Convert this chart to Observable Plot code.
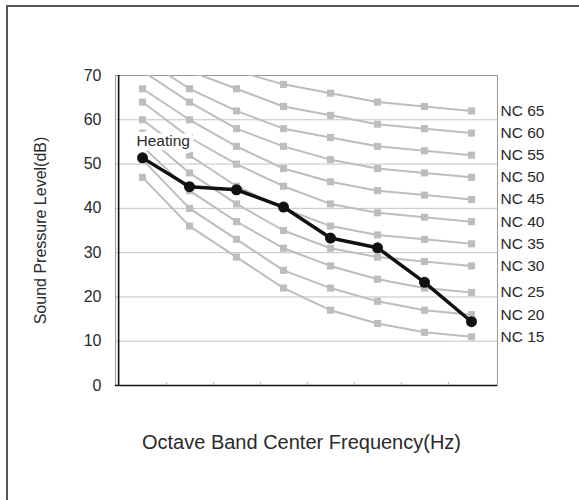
<!DOCTYPE html>
<html>
<head>
<meta charset="utf-8">
<script src="https://cdn.jsdelivr.net/npm/d3@7"></script>
<script src="https://cdn.jsdelivr.net/npm/@observablehq/plot@0.6"></script>
<style>
  html, body { margin: 0; padding: 0; background: #fff; }
  #wrap { position: relative; width: 579px; height: 500px; overflow: hidden; font-family: "Liberation Sans", Arial, sans-serif; }
  #border { position: absolute; left: 6px; top: 5px; right: -10px; bottom: -10px; border-top: 2px solid #555; border-left: 2px solid #555; }
  #chart { position: absolute; left: 0; top: 0; }
</style>
</head>
<body>
<div id="wrap"><div id="border"></div><div id="chart"></div></div>
<script>
// Octave band center frequencies (x categories, unlabeled on the chart)
const bands = ["63", "125", "250", "500", "1k", "2k", "4k", "8k"];
// NC curve levels and their values per band
const ncLevels = [15, 20, 25, 30, 35, 40, 45, 50, 55, 60, 65];
const nc15 = [47, 36, 29, 22, 17, 14, 12, 11];
const nc20 = [51, 40, 33, 26, 22, 19, 17, 16];
const nc25 = [54, 44, 37, 31, 27, 24, 22, 21];
const nc30 = [57, 48, 41, 35, 31, 29, 28, 27];
const nc35 = [60, 52, 45, 40, 36, 34, 33, 32];
const nc40 = [64, 56, 50, 45, 41, 39, 38, 37];
const nc45 = [67, 60, 54, 49, 46, 44, 43, 42];
const nc50 = [71, 64, 58, 54, 51, 49, 48, 47];
const nc55 = [74, 67, 62, 58, 56, 54, 53, 52];
const nc60 = [77, 71, 67, 63, 61, 59, 58, 57];
const nc65 = [80, 75, 71, 68, 66, 64, 63, 62];
// Measured heating spectrum
const heatingName = "Heating";
const heating = [51.4, 44.9, 44.2, 40.3, 33.3, 31.1, 23.3, 14.4];
// Axis
const yTicks = [0, 10, 20, 30, 40, 50, 60, 70];
const gridTicks = [10, 20, 30, 40, 50, 60];
const yLabel = "Sound Pressure Level(dB)";
const xLabel = "Octave Band Center Frequency(Hz)";

const ncSeries = [nc15, nc20, nc25, nc30, nc35, nc40, nc45, nc50, nc55, nc60, nc65];
const ncRows = ncLevels.flatMap((lvl, k) =>
  bands.map((b, i) => ({band: b, value: ncSeries[k][i], curve: "NC " + lvl})));
const ncLast = ncLevels.map((lvl, k) => ({band: bands[bands.length - 1], value: ncSeries[k][bands.length - 1], label: "NC " + lvl}));
const heatRows = bands.map((b, i) => ({band: b, value: heating[i]}));

const W = 579, H = 500, mL = 115, mR = 82, mT = 75, mB = 115;
const step = (W - mL - mR) / bands.length;

const gray = "#bdbdbd";
const textColor = "#2a2a2a";

const plot = Plot.plot({
  width: W,
  height: H,
  marginLeft: mL,
  marginRight: mR,
  marginTop: mT,
  marginBottom: mB,
  style: {fontFamily: "'Liberation Sans', Arial, sans-serif", fontSize: "16px", color: textColor, background: "transparent"},
  x: {type: "point", domain: bands, padding: 0.5, axis: null},
  y: {domain: [0, 70], axis: null},
  marks: [
    Plot.ruleY(gridTicks, {stroke: "#c4c4c4", strokeWidth: 1}),
    Plot.frame({stroke: "#9a9a9a", strokeWidth: 1}),
    Plot.line(ncRows, {x: "band", y: "value", z: "curve", stroke: gray, strokeWidth: 2, clip: true}),
    Plot.dot(ncRows, {x: "band", y: "value", symbol: "square", r: 4, fill: gray, stroke: null, clip: true}),
    Plot.text(ncLast, {x: "band", y: "value", text: "label", textAnchor: "start", dx: 29, fontSize: 15.5, fill: textColor}),
    Plot.text([heatRows[0]], {x: "band", y: "value", text: () => heatingName, textAnchor: "start", dx: -6, dy: -17, fontSize: 15.5, fill: textColor, stroke: "white", strokeWidth: 9}),
    Plot.ruleY([0], {stroke: "#111", strokeWidth: 1.6}),
    Plot.ruleX([bands[0]], {dx: -step / 2, stroke: "#111", strokeWidth: 1.6}),
    Plot.ruleX(bands.slice(0, -1), {y1: 0, y2: 0.65, dx: step / 2, stroke: "#aaa", strokeWidth: 1}),
    Plot.line(heatRows, {x: "band", y: "value", stroke: "#111", strokeWidth: 3.5}),
    Plot.dot(heatRows, {x: "band", y: "value", r: 5.5, fill: "#111", stroke: null}),
    Plot.axisY(yTicks, {tickSize: 0, tickPadding: 14, fontSize: 16, fill: textColor, label: null}),
    Plot.text([yLabel], {frameAnchor: "left", textAnchor: "middle", lineAnchor: "middle", dx: -75, rotate: -90, fontSize: 16, fill: textColor}),
    Plot.text([xLabel], {frameAnchor: "bottom", lineAnchor: "middle", dy: 57, dx: -5, fontSize: 20, fill: textColor})
  ]
});
document.getElementById("chart").appendChild(plot);
</script>
</body>
</html>
